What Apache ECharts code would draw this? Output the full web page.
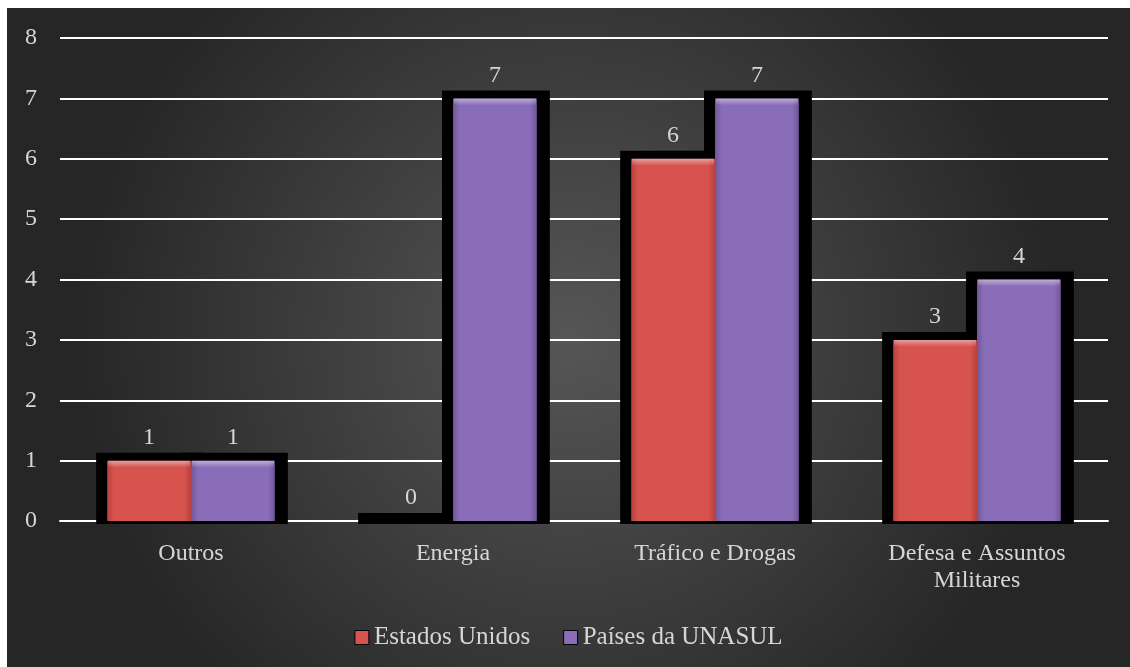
<!DOCTYPE html>
<html>
<head>
<meta charset="utf-8">
<script src="https://cdn.jsdelivr.net/npm/echarts@6/dist/echarts.min.js"></script>
<style>
  html, body { margin: 0; padding: 0; background: #ffffff; }
  #wrap { position: relative; width: 1130px; height: 667px; background: #ffffff; overflow: hidden; }
  #chart { position: absolute; left: 7px; top: 8px; width: 1123px; height: 659px; }
</style>
</head>
<body>
<div id="wrap"><div id="chart"></div></div>
<script>
// Temas de discurso por grupo
const categories = ['Outros', 'Energia', 'Tráfico e Drogas', 'Defesa e Assuntos\nMilitares'];
const estadosUnidos = [1, 0, 6, 3];
const paisesUnasul = [1, 7, 7, 4];
const seriesNames = ['Estados Unidos', 'Países da UNASUL'];
const yTicks = [0, 1, 2, 3, 4, 5, 6, 7, 8];

const FONT = 'Liberation Serif';
const FS = 24;
const TEXT = '#d6d6d6';
const GAP = 0.36; // barCategoryGap as fraction

const chart = echarts.init(document.getElementById('chart'), null, { renderer: 'canvas' });

function barGeom(api, idx) {
  const c = api.coord([idx, 0]);
  const band = api.size([1, 0])[0];
  const bw = band * (1 - GAP) / 2;
  return { cx: c[0], base: c[1], bw: bw };
}

// black backdrop behind each pair of bars
function renderBackdrop(params, api) {
  const idx = api.value(0);
  const g = barGeom(api, idx);
  const vals = [api.value(1), api.value(2)];
  const children = vals.map(function (v, i) {
    const top = api.coord([idx, v])[1];
    const x0 = g.cx - g.bw + i * g.bw;
    return {
      type: 'rect',
      shape: { x: x0 - 11, y: top - 8, width: g.bw + 24, height: g.base - top + 11 },
      style: { fill: '#000000' }
    };
  });
  return { type: 'group', children: children };
}

// light bevel along the top of each bar
function renderBevel(params, api) {
  const idx = api.value(0);
  const g = barGeom(api, idx);
  const vals = [api.value(1), api.value(2)];
  const children = [];
  vals.forEach(function (v, i) {
    if (v <= 0) return;
    const top = api.coord([idx, v])[1];
    const x0 = g.cx - g.bw + i * g.bw;
    children.push({
      type: 'rect',
      shape: { x: x0 + 1, y: top, width: g.bw - 2, height: 7 },
      style: {
        fill: new echarts.graphic.LinearGradient(0, 0, 0, 1, [
          { offset: 0, color: 'rgba(255,255,255,0.45)' },
          { offset: 1, color: 'rgba(255,255,255,0.0)' }
        ])
      }
    });
  });
  return { type: 'group', children: children };
}

function barFill(edge, mid) {
  return new echarts.graphic.LinearGradient(0, 0, 1, 0, [
    { offset: 0, color: edge },
    { offset: 0.08, color: mid },
    { offset: 0.92, color: mid },
    { offset: 1, color: edge }
  ]);
}

const pairData = categories.map(function (c, i) { return [i, estadosUnidos[i], paisesUnasul[i]]; });

chart.setOption({
  backgroundColor: new echarts.graphic.RadialGradient(0.5, 0.5, 0.75, [
    { offset: 0, color: '#565656' },
    { offset: 1, color: '#262626' }
  ]),
  animation: false,
  textStyle: { fontFamily: FONT },
  grid: { left: 53, right: 22, top: 30, bottom: 146, containLabel: false },
  legend: {
    data: seriesNames,
    left: 'center',
    top: 612,
    itemWidth: 14,
    itemHeight: 14,
    itemGap: 33,
    icon: 'rect',
    itemStyle: { borderColor: '#000', borderWidth: 1 },
    textStyle: { color: TEXT, fontSize: 25, fontFamily: FONT }
  },
  xAxis: {
    type: 'category',
    data: categories,
    axisLine: { show: true, lineStyle: { color: '#ffffff', width: 2 } },
    axisTick: { show: false },
    axisLabel: { color: TEXT, fontSize: FS, fontFamily: FONT, margin: 19, lineHeight: 27, interval: 0 }
  },
  yAxis: {
    type: 'value',
    min: 0,
    max: 8,
    interval: 1,
    axisLine: { show: false },
    axisTick: { show: false },
    axisLabel: {
      color: TEXT, fontSize: FS, fontFamily: FONT, margin: 23,
      formatter: function (v) { return yTicks.indexOf(v) >= 0 ? String(v) : ''; }
    },
    splitLine: { lineStyle: { color: '#ffffff', width: 2 } }
  },
  series: [
    {
      type: 'custom',
      name: 'backdrop',
      silent: true,
      z: 1,
      renderItem: renderBackdrop,
      data: pairData,
      encode: { x: 0, y: [1, 2] }
    },
    {
      type: 'bar',
      name: seriesNames[0],
      data: estadosUnidos,
      z: 3,
      barGap: '0%',
      barCategoryGap: '36%',
      itemStyle: { color: barFill('#b8403d', '#d6534e') },
      label: { show: true, position: 'top', distance: 11, color: TEXT, fontSize: FS, fontFamily: FONT }
    },
    {
      type: 'bar',
      name: seriesNames[1],
      data: paisesUnasul,
      z: 3,
      barGap: '0%',
      barCategoryGap: '36%',
      itemStyle: { color: barFill('#6e5696', '#8a6db8') },
      label: { show: true, position: 'top', distance: 11, color: TEXT, fontSize: FS, fontFamily: FONT }
    },
    {
      type: 'custom',
      name: 'bevel',
      silent: true,
      z: 4,
      renderItem: renderBevel,
      data: pairData,
      encode: { x: 0, y: [1, 2] }
    }
  ]
});
</script>
</body>
</html>
